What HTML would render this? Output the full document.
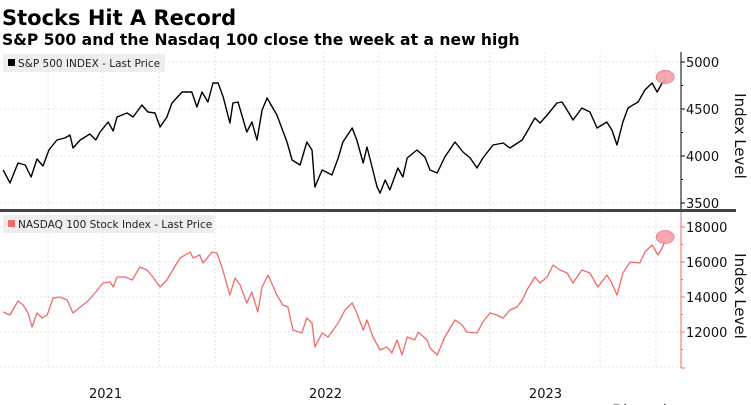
<!DOCTYPE html>
<html><head><meta charset="utf-8">
<style>
html,body{margin:0;padding:0;background:#fff;width:751px;height:405px;overflow:hidden;font-family:"DejaVu Sans","Liberation Sans",sans-serif;}
</style></head>
<body>
<svg id="chart" width="751" height="405" xmlns="http://www.w3.org/2000/svg">
  <text x="2" y="25" font-family="DejaVu Sans, sans-serif" font-weight="bold" font-size="21" fill="#000">Stocks Hit A Record</text>
  <text x="2" y="45" font-family="DejaVu Sans, sans-serif" font-weight="bold" font-size="15.6" fill="#000">S&amp;P 500 and the Nasdaq 100 close the week at a new high</text>
  <g id="grid"></g>
  <rect x="3" y="54" width="162" height="18" fill="#eeeeee"/>
  <rect x="8" y="59" width="7" height="7" fill="#000"/>
  <text x="18" y="67" font-size="10.5" fill="#222">S&amp;P 500 INDEX - Last Price</text>
  <rect x="3" y="215" width="211" height="18" fill="#eeeeee"/>
  <rect x="8" y="220" width="7" height="7" fill="#f06b6b"/>
  <text x="18" y="228" font-size="10.5" fill="#222">NASDAQ 100 Stock Index - Last Price</text>
  <g id="series"></g>
  <g id="axes"></g>
  <rect x="0" y="209" width="736" height="3" fill="#444"/>
  <text x="735" y="136" font-size="15" fill="#111" text-anchor="middle" transform="rotate(90 735 136)">Index Level</text>
  <text x="735" y="296" font-size="15" fill="#111" text-anchor="middle" transform="rotate(90 735 296)">Index Level</text>
  <text x="612" y="416" font-size="16" fill="#111">Bloomberg</text>
</svg>
<script>
const spWeeks=[1.7,3.3,5.2,6.9,8.3,9.7,11.1,12.5,14.4,16.3,17.5,18.2,19.9,22.2,23.6,24.6,26.5,27.7,28.6,31.0,32.4,34.5,35.9,37.6,38.8,40.4,41.6,44.0,46.3,47.5,48.7,50.1,51.3,52.5,53.7,55.3,56.0,57.2,59.3,60.5,61.7,62.9,64.1,66.4,68.8,70.0,71.9,73.5,74.7,75.4,77.1,79.4,80.9,82.0,84.2,85.3,86.8,87.7,90.1,90.8,92.0,93.1,95.0,96.2,97.2,99.5,101.4,102.6,104.3,106.1,108.5,110.4,112.1,113.7,115.1,117.5,119.9,121.5,124.4,125.5,127.4,128.6,130.3,132.6,133.8,135.0,136.4,138.5,140.4,142.1,144.4,145.6,146.8,148.2,149.4,151.8,153.4,155.1,156.3,157.5,158.2];
const spValues=[3851,3713,3926,3904,3777,3968,3894,4064,4170,4191,4223,4085,4170,4234,4170,4255,4362,4266,4415,4457,4415,4543,4468,4457,4309,4415,4564,4681,4681,4521,4681,4574,4777,4777,4628,4351,4564,4574,4255,4362,4170,4489,4617,4436,4149,3957,3904,4149,4064,3670,3851,3798,3979,4149,4298,4170,3926,4096,3670,3606,3745,3638,3872,3777,3979,4064,3989,3851,3819,3989,4149,4043,3979,3872,3979,4117,4138,4085,4170,4255,4404,4351,4436,4564,4574,4489,4383,4511,4468,4298,4362,4277,4117,4362,4511,4574,4702,4777,4681,4777,4809];
const ndxWeeks=[1.7,3.3,5.2,6.4,7.6,8.5,9.7,10.9,12.1,13.5,15.1,16.8,18.2,19.9,21.5,23.4,25.3,27.0,27.7,28.6,30.5,32.2,34.0,35.7,37.1,38.8,40.4,41.8,43.5,45.9,46.6,48.2,48.9,51.1,52.2,53.4,55.3,56.5,57.7,59.3,60.5,61.9,62.9,64.3,66.4,67.8,69.0,70.2,72.3,73.5,74.7,75.4,77.1,78.5,80.9,82.5,84.2,85.3,86.8,87.7,89.1,90.8,92.4,93.6,94.8,96.0,97.2,99.0,99.8,101.9,102.6,104.3,106.1,108.5,110.2,111.3,113.7,115.1,116.8,118.4,119.9,121.5,123.2,124.4,125.5,127.4,128.6,130.3,131.7,133.3,135.0,136.4,138.5,140.4,142.3,144.4,145.6,146.8,148.2,149.9,152.2,153.4,155.1,156.5,157.5,158.2];
const ndxValues=[13143,12971,13771,13543,13086,12286,13086,12800,12971,13943,14000,13829,13086,13429,13714,14229,14800,14857,14571,15143,15143,14971,15714,15543,15143,14571,14971,15543,16229,16571,16229,16400,15943,16571,16514,15714,14114,15086,14686,13657,14286,13143,14571,15257,14114,13543,13429,12114,11943,12800,12514,11143,11943,11714,12514,13257,13657,13086,12114,12686,11714,10971,11143,10800,11543,10686,11714,11543,12000,11543,11086,10686,11714,12686,12400,12000,11943,12571,13086,12971,12800,13257,13429,13829,14400,15143,14800,15143,15829,15543,15371,14800,15543,15371,14571,15257,14800,14114,15371,16000,15943,16571,16971,16400,16800,17257];
const spTicks=[3500,4000,4500,5000];
const ndxTicks=[12000,14000,16000,18000];
const yearLabels=["2021","2022","2023"];
const yearMidWeeks=[25.9,77.9,129.9];
const gridWeeks=[12.3,25.3,38.6,51.8,64.8,77.5,90.5,104.0,116.8,129.8,142.8,156.0];

const NS="http://www.w3.org/2000/svg";
const xS=w=>w*4.23-4;
const spY=v=>109-(v-4500)*47/500;
const ndxY=v=>297-(v-14000)*17.5/1000;
function mk(tag,attrs,parent){const e=document.createElementNS(NS,tag);for(const k in attrs)e.setAttribute(k,attrs[k]);parent.appendChild(e);return e;}
const grid=document.getElementById('grid'),series=document.getElementById('series'),axes=document.getElementById('axes');
const AX=681;
const GC='#dcdcdc';
spTicks.forEach(v=>{const l=mk('line',{x1:0,x2:AX,y1:spY(v),y2:spY(v),stroke:GC,'stroke-dasharray':'2,2','stroke-width':0.8},grid);

});
ndxTicks.concat([10000]).forEach(v=>{const l=mk('line',{x1:0,x2:AX,y1:ndxY(v),y2:ndxY(v),stroke:GC,'stroke-dasharray':'2,2','stroke-width':0.8},grid);

});
gridWeeks.forEach(w=>{const l=mk('line',{x1:xS(w),x2:xS(w),y1:52,y2:368,stroke:GC,'stroke-dasharray':'2,2','stroke-width':0.8},grid);

});
const spPath=mk('path',{d:spWeeks.map((w,i)=>(i?'L':'M')+xS(w).toFixed(1)+','+spY(spValues[i]).toFixed(1)).join(''),fill:'none',stroke:'#000','stroke-width':1.4,'stroke-linejoin':'round'},series);


const ndxPath=mk('path',{d:ndxWeeks.map((w,i)=>(i?'L':'M')+xS(w).toFixed(1)+','+ndxY(ndxValues[i]).toFixed(1)).join(''),fill:'none',stroke:'#f06b6b','stroke-width':1.3,'stroke-linejoin':'round'},series);


const lastSp=spValues.length-1,lastN=ndxValues.length-1;
const c1=mk('ellipse',{cx:xS(spWeeks[lastSp]),cy:spY(spValues[lastSp])-3,rx:9,ry:6.5,fill:'#f4a0a8',stroke:'#e07080','stroke-width':0.8,opacity:0.9},series);


const c2=mk('ellipse',{cx:xS(ndxWeeks[lastN]),cy:ndxY(ndxValues[lastN])-3,rx:9,ry:6.5,fill:'#f4a0a8',stroke:'#e07080','stroke-width':0.8,opacity:0.9},series);


const a1=mk('line',{x1:AX,x2:AX,y1:52,y2:210,stroke:'#000','stroke-width':1},axes);


const a2=mk('line',{x1:AX,x2:AX,y1:212,y2:368,stroke:'#f06b6b','stroke-width':1},axes);


spTicks.forEach(v=>{const y=spY(v);
const t=mk('line',{x1:AX,x2:AX+4,y1:y,y2:y,stroke:'#000'},axes);


const tx=mk('text',{x:AX+5,y:y+5,'font-size':13,fill:'#111'},axes);tx.textContent=v;

});
[3750,4250,4750].forEach(v=>{mk('line',{x1:AX,x2:AX+2,y1:spY(v),y2:spY(v),stroke:'#000'},axes);});
ndxTicks.forEach(v=>{const y=ndxY(v);
const t=mk('line',{x1:AX,x2:AX+4,y1:y,y2:y,stroke:'#f06b6b'},axes);


const tx=mk('text',{x:AX+5,y:y+5,'font-size':13,fill:'#111'},axes);tx.textContent=v;

});
[11000,13000,15000,17000].forEach(v=>{mk('line',{x1:AX,x2:AX+2,y1:ndxY(v),y2:ndxY(v),stroke:'#f06b6b'},axes);});
mk('line',{x1:AX,x2:AX+4,y1:368,y2:368,stroke:'#f06b6b'},axes);
yearLabels.forEach((lab,i)=>{const tx=mk('text',{x:xS(yearMidWeeks[i]),y:398,'font-size':13,fill:'#111','text-anchor':'middle'},axes);tx.textContent=lab;

});
</script>
</body></html>
